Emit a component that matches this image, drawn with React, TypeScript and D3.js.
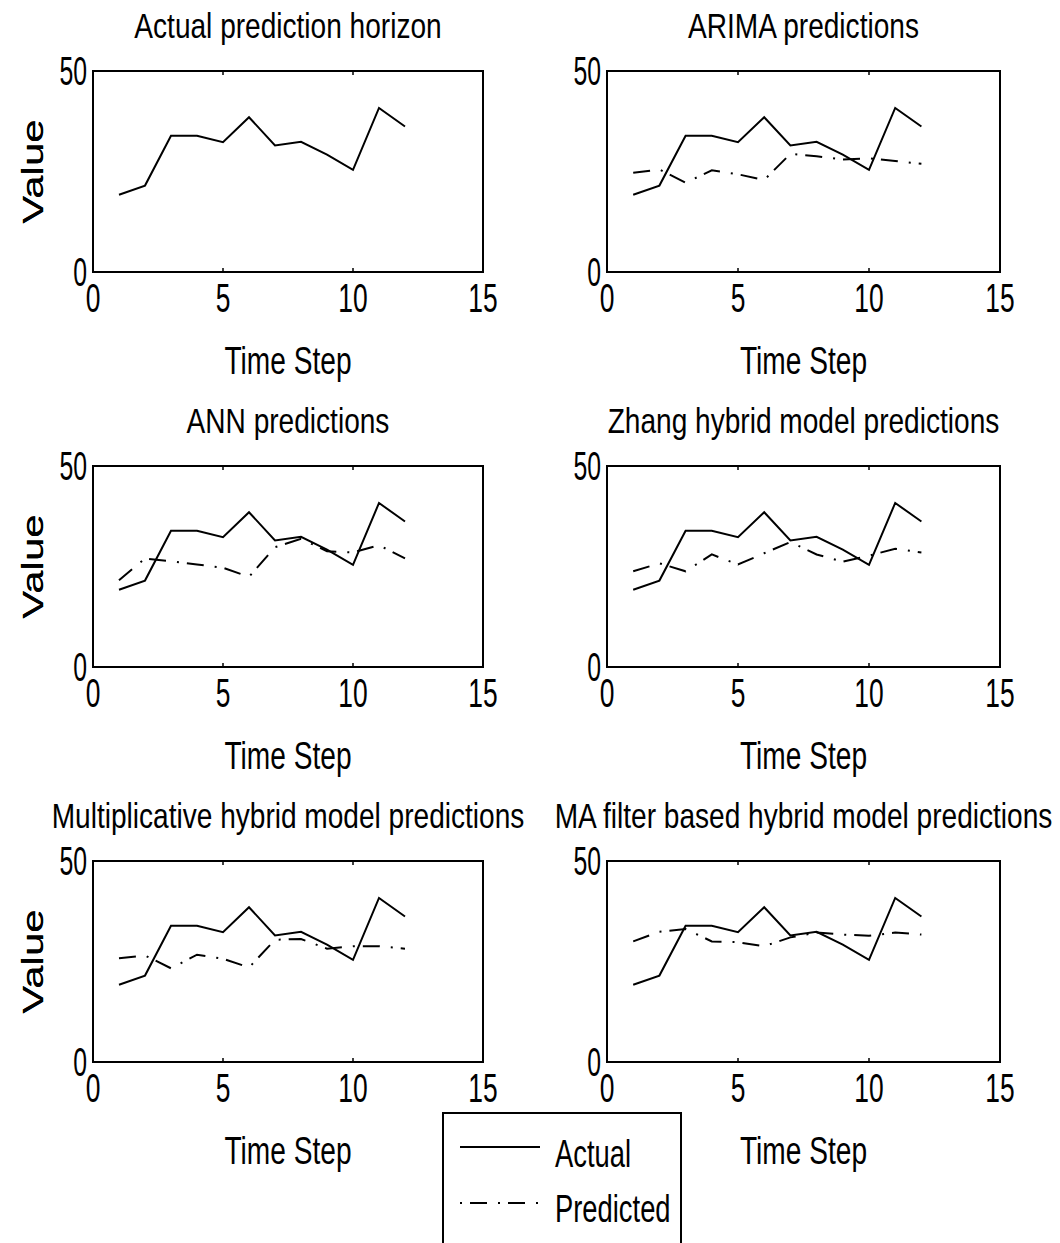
import React from "react";
import * as d3 from "d3";

const steps = [1, 2, 3, 4, 5, 6, 7, 8, 9, 10, 11, 12];
const actual = [19.2, 21.5, 33.9, 33.9, 32.3, 38.5, 31.5, 32.4, 29.2, 25.4, 40.8, 36.2];
const arimaPred = [24.7, 25.5, 22.2, 25.3, 24.3, 22.9, 29.4, 28.8, 28.0, 28.3, 27.6, 26.9];
const annPred = [21.6, 27.0, 26.3, 25.5, 24.7, 22.4, 29.8, 31.9, 28.8, 28.5, 30.3, 27.0];
const zhangPred = [23.8, 25.8, 23.8, 28.0, 25.5, 28.3, 31.1, 28.0, 26.2, 27.7, 29.4, 28.5];
const multPred = [25.8, 26.5, 23.3, 26.7, 25.7, 23.5, 30.4, 30.6, 28.2, 28.8, 28.8, 28.2];
const maPred = [30.0, 32.4, 33.1, 30.0, 29.8, 28.8, 31.0, 32.2, 31.7, 31.4, 32.2, 31.7];

const titles = [
  "Actual prediction horizon",
  "ARIMA predictions",
  "ANN predictions",
  "Zhang hybrid model predictions",
  "Multiplicative hybrid model predictions",
  "MA filter based hybrid model predictions",
];
const predictions: (number[] | null)[] = [null, arimaPred, annPred, zhangPred, multPred, maPred];
const xTicks = [0, 5, 10, 15];
const yTicks = [0, 50];
const legendLabels = ["Actual", "Predicted"];

const FONT = "'Liberation Sans', Arial, Helvetica, sans-serif";
const FS = 36;
const SX = 0.78;
const DASH = "17,11,2,8";

function HText({ x, y, anchor, children, fs = FS, sx = SX }: any) {
  return (
    <text
      transform={`translate(${x},${y}) scale(${sx},1)`}
      textAnchor={anchor}
      fontFamily={FONT}
      fontSize={fs}
      fill="#000"
    >
      {children}
    </text>
  );
}

function Panel({ idx }: { idx: number }) {
  const col = idx % 2;
  const row = Math.floor(idx / 2);
  const left = col === 0 ? 93 : 607;
  const right = col === 0 ? 483 : 1000;
  const top = 71 + row * 395;
  const bottom = top + 201;
  const x = d3.scaleLinear().domain([0, 15]).range([left, right]);
  const y = d3.scaleLinear().domain([0, 50]).range([bottom, top]);
  const line = d3
    .line<number>()
    .x((_, i) => x(steps[i]))
    .y((d) => y(d));
  const pred = predictions[idx];
  const cx = (left + right) / 2;
  const cy = (top + bottom) / 2;
  return (
    <g>
      <HText x={cx} y={top - 33} anchor="middle">{titles[idx]}</HText>
      <rect x={left} y={top} width={right - left} height={bottom - top} fill="none" stroke="#000" strokeWidth={2} />
      {xTicks.slice(1, -1).map((t) => (
        <g key={t}>
          <line x1={x(t)} x2={x(t)} y1={bottom} y2={bottom - 4} stroke="#000" strokeWidth={1.5} />
          <line x1={x(t)} x2={x(t)} y1={top} y2={top + 4} stroke="#000" strokeWidth={1.5} />
        </g>
      ))}
      {xTicks.map((t) => (
        <HText key={t} x={x(t)} y={bottom + 40} anchor="middle" fs={40} sx={0.66}>{String(t)}</HText>
      ))}
      {yTicks.map((t) => (
        <HText key={t} x={left - 6} y={y(t) + 14} anchor="end" fs={40} sx={0.62}>{String(t)}</HText>
      ))}
      <HText x={cx} y={bottom + 102} anchor="middle" fs={38} sx={0.74}>Time Step</HText>
      <text
        transform={`translate(43,${cy}) rotate(-90) scale(1.4,1)`}
        textAnchor="middle"
        fontFamily={FONT}
        fontSize={30}
        fill="#000"
      >
        Value
      </text>
      <path d={line(actual) || ""} fill="none" stroke="#000" strokeWidth={2} strokeLinejoin="miter" />
      {pred && (
        <path d={line(pred) || ""} fill="none" stroke="#000" strokeWidth={2} strokeDasharray={DASH} />
      )}
    </g>
  );
}

export default function App() {
  return (
    <svg
      width={1060}
      height={1243}
      style={{ position: "absolute", left: 0, top: 0, background: "#fff" }}
    >
      <rect x={0} y={0} width={1060} height={1243} fill="#fff" />
      {[0, 1, 2, 3, 4, 5].map((i) => (
        <Panel key={i} idx={i} />
      ))}
      <g>
        <rect x={443} y={1113} width={238} height={160} fill="#fff" stroke="#000" strokeWidth={2} />
        <line x1={460} x2={540} y1={1147} y2={1147} stroke="#000" strokeWidth={2} />
        <line x1={460} x2={540} y1={1203} y2={1203} stroke="#000" strokeWidth={2} strokeDasharray="2,8,17,11" />
        <HText x={555} y={1167} anchor="start" fs={38} sx={0.72}>{legendLabels[0]}</HText>
        <HText x={555} y={1222} anchor="start" fs={38} sx={0.72}>{legendLabels[1]}</HText>
      </g>
    </svg>
  );
}
